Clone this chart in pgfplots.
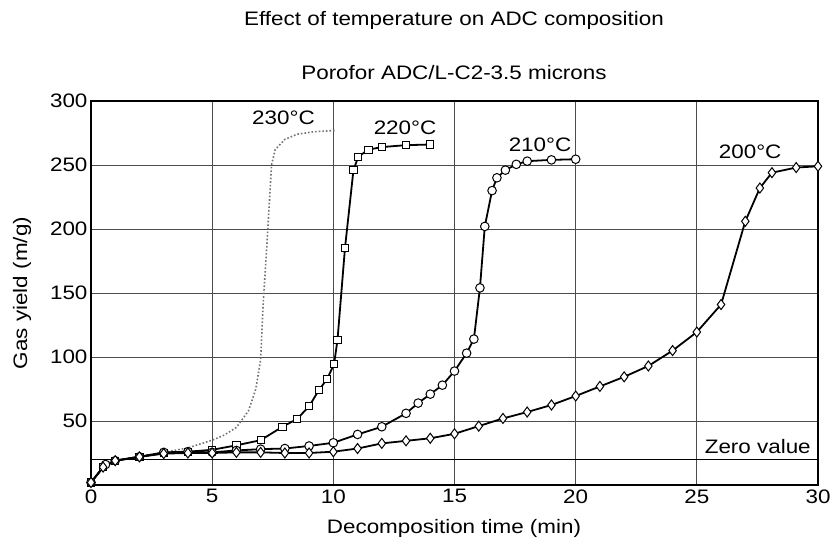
\documentclass[border=0pt]{standalone}
\usepackage{fontspec}
\setmainfont{Liberation Sans}[FakeStretch=1.15]
\usepackage{pgfplots}
\pgfplotsset{compat=1.18}
\newcommand\f{\fontsize{19.5pt}{23pt}\selectfont}
\begin{document}
\begin{tikzpicture}
\path[use as bounding box] (0,0) rectangle (832pt,546pt);
\begin{axis}[
  at={(91pt,61pt)}, anchor=south west,
  scale only axis, width=727pt, height=384pt,
  xmin=0, xmax=30, ymin=0, ymax=300,
  xtick={0,5,...,30}, ytick={50,100,...,300},
  major tick length=0pt,
  grid=major, grid style={black!70, line width=0.8pt},
  axis line style={black, line width=1.2pt},
  tick label style={font=\f},
  /pgf/number format/assume math mode=true,
  xticklabel style={yshift=-1pt},
  clip=false,
]
\addplot[black, line width=0.8pt, forget plot] coordinates {(0,20) (30,20)};
% 230 C
\addplot[black!55, dotted, line width=1.6pt, mark=none] coordinates {
(0,2) (0.5,14) (1,19) (2,22.5) (3,25.5) (4,29) (5,35) (5.5,39) (6,45) (6.5,58) (6.8,75) (7.0,98) (7.1,140) (7.25,185) (7.45,250) (7.6,262) (8.0,270) (8.5,274) (9.2,276) (10.1,277)};
% 220 C
\addplot[black, line width=1.8pt, mark=square*, mark size=3.6pt, mark options={fill=white, draw=black, line width=1pt, solid}] coordinates {
(0,2) (0.5,14) (1,19) (2,22) (3,25) (4,26) (5,27.5) (6,31) (7,35) (7.9,45.5) (8.5,51.5) (9,61.5) (9.4,74) (9.75,83) (10.03,94.5) (10.17,113) (10.48,185) (10.83,246) (11.03,256.5) (11.45,262) (12,264) (13,265.5) (14,266)};
% 210 C
\addplot[black, line width=1.8pt, mark=*, mark size=4.3pt, mark options={fill=white, draw=black, line width=1pt}] coordinates {
(0,2) (0.6,16) (1,19) (2,22) (3,25.5) (4,26) (5,25.5) (6,27) (7,28) (8,28.5) (9,30.5) (10,33) (11,39.5) (12,45.5) (13,56) (13.5,64) (14,71) (14.5,78) (15,89) (15.5,103) (15.8,114) (16.05,154) (16.25,202) (16.55,230) (16.75,240) (17.1,246) (17.55,250.5) (18,253) (19,254) (20,254.5)};
% 200 C
\addplot[black, line width=1.8pt, mark=diamond*, mark size=5pt, mark options={fill=white, draw=black, line width=1pt}] coordinates {
(0,2) (0.5,14) (1,19) (2,22) (3,24.5) (4,25) (5,25) (6,25.5) (7,25.5) (8,25) (9,25) (10,26) (11,28.5) (12,32.5) (13,34.5) (14,36.5) (15,40) (16,46) (17,52) (18,57) (19,62.5) (20,69.5) (21,77) (22,84.5) (23,93) (24,105) (25,119.5) (26,141) (27,206) (27.6,232) (28.1,244) (29.1,248) (30,249)};
\node[font=\f] at (axis cs:7.94,286.5) {230°C};
\node[font=\f] at (axis cs:12.96,279) {220°C};
\node[font=\f] at (axis cs:18.53,265.6) {210°C};
\node[font=\f] at (axis cs:27.2,260.4) {200°C};
\node[font=\f, anchor=east, fill=white, inner sep=1pt] at (axis cs:29.75,30) {Zero value};
\end{axis}
\node[font=\f] at (454pt,526pt) {Effect of temperature on ADC composition};
\node[font=\f] at (454pt,473pt) {Porofor ADC/L-C2-3.5 microns};
\node[font=\f] at (454pt,18pt) {Decomposition time (min)};
\node[font=\f, rotate=90] at (22pt,253pt) {Gas yield (m/g)};
\end{tikzpicture}
\end{document}
